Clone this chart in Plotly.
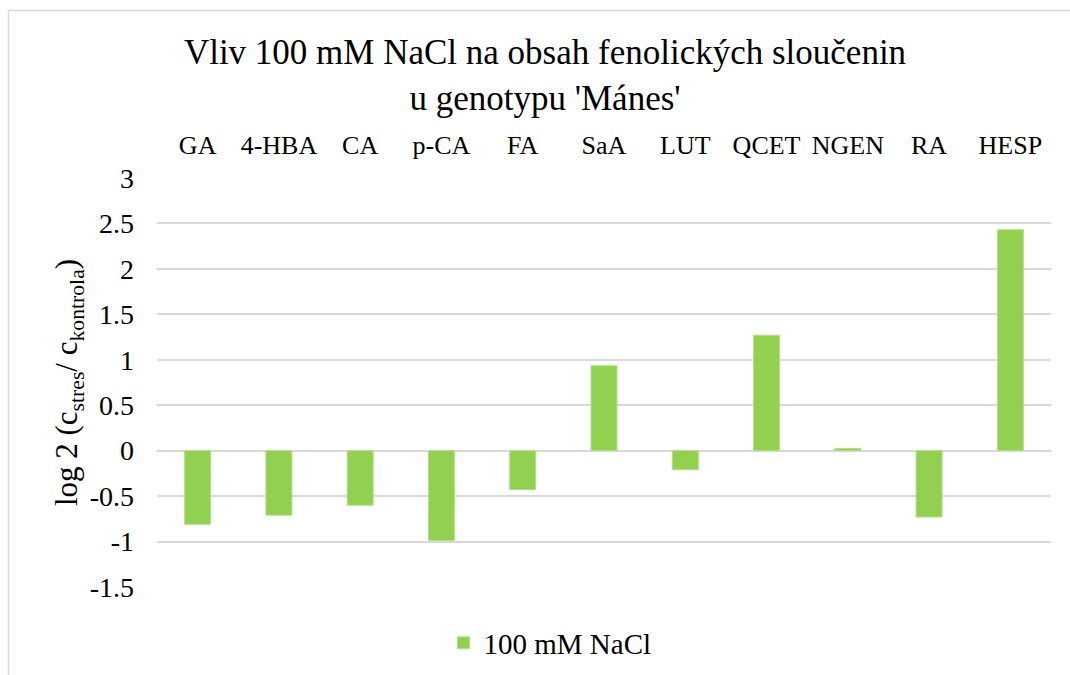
import plotly.graph_objects as go

# Phenolic compounds and log2 ratio of stressed vs. control content
compounds = ["GA", "4-HBA", "CA", "p-CA", "FA", "SaA", "LUT", "QCET", "NGEN", "RA", "HESP"]
log2_ratio = [-0.81, -0.71, -0.60, -0.99, -0.43, 0.935, -0.21, 1.27, 0.025, -0.73, 2.43]
series_name = "100 mM NaCl"

y_ticks = [-1.5, -1, -0.5, 0, 0.5, 1, 1.5, 2, 2.5, 3]
y_tick_text = ["-1.5", "-1", "-0.5", "0", "0.5", "1", "1.5", "2", "2.5", "3"]

W, H = 1070, 675
L, R, T, B = 157, 19, 178, 88
plot_w = W - L - R
plot_h = H - T - B

FONT = "Liberation Serif, Times New Roman, serif"
GREEN = "#92d050"
GRID = "#d9d9d9"

fig = go.Figure(
    go.Bar(
        x=compounds,
        y=log2_ratio,
        name=series_name,
        marker=dict(color=GREEN, line=dict(color="#b3e08a", width=1)),
        showlegend=True,
    )
)

def px_x(px):
    return (px - L) / plot_w

def px_y(py):
    return (H - B - py) / plot_h

# chart-area frame: top and left edges only
frame = [
    dict(type="line", xref="paper", yref="paper",
         x0=px_x(8), x1=px_x(W + 20), y0=px_y(10.5), y1=px_y(10.5),
         line=dict(color=GRID, width=1.5), layer="below"),
    dict(type="line", xref="paper", yref="paper",
         x0=px_x(8.5), x1=px_x(8.5), y0=px_y(10), y1=px_y(H + 20),
         line=dict(color=GRID, width=1.5), layer="below"),
]

fig.update_layout(
    width=W,
    height=H,
    margin=dict(l=L, r=R, t=T, b=B, autoexpand=False),
    paper_bgcolor="white",
    plot_bgcolor="white",
    font=dict(family=FONT, size=26, color="#000000"),
    bargap=0.68,
    title=dict(
        text="Vliv 100 mM NaCl na obsah fenolických sloučenin<br>u genotypu 'Mánes'",
        font=dict(family=FONT, size=35, color="#000000"),
        x=545 / W,
        xanchor="center",
        xref="container",
        y=1 - 64 / H,
        yanchor="middle",
        yref="container",
    ),
    legend=dict(
        orientation="h",
        x=550 / W,
        xanchor="center",
        xref="container",
        y=1 - 643 / H,
        yanchor="middle",
        yref="container",
        font=dict(family=FONT, size=29),
        bgcolor="rgba(0,0,0,0)",
    ),
    xaxis=dict(
        side="top",
        type="category",
        showline=False,
        showgrid=False,
        ticks="",
        ticklabelstandoff=18,
        tickfont=dict(family=FONT, size=26),
        automargin=False,
    ),
    yaxis=dict(
        range=[-1.5, 3],
        tickvals=y_ticks,
        ticktext=y_tick_text,
        showgrid=True,
        gridcolor=GRID,
        gridwidth=1.5,
        zeroline=False,
        showline=False,
        ticks="",
        ticklabelstandoff=22,
        tickfont=dict(family=FONT, size=28),
        automargin=False,
        title=dict(
            text="log 2 (c<sub>stres</sub>/ c<sub>kontrola</sub>)",
            font=dict(family=FONT, size=31),
            standoff=2,
        ),
    ),
    shapes=frame,
)

fig.write_html("out.html")
